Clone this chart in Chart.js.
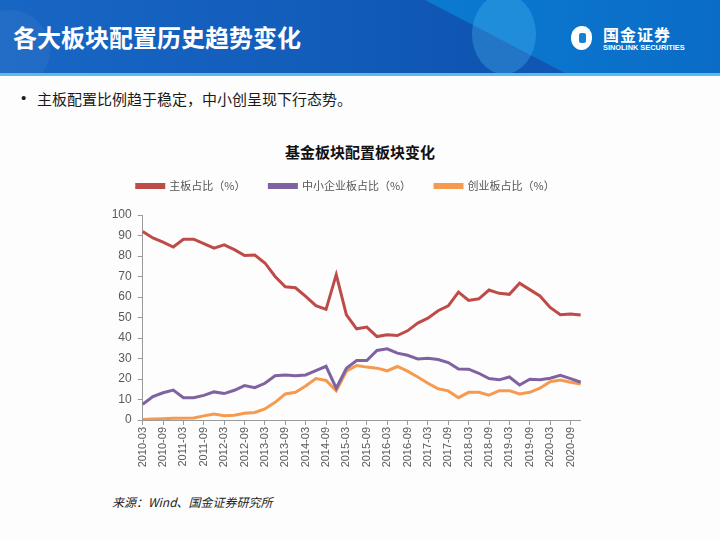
<!DOCTYPE html>
<html><head><meta charset="utf-8">
<script src="https://cdn.jsdelivr.net/npm/chart.js@4"></script>
<style>
html,body{margin:0;padding:0;width:720px;height:540px;overflow:hidden;background:#fdfdfd;font-family:"Noto Sans CJK SC","Noto Sans",sans-serif;}
#hdr{position:absolute;left:0;top:0;width:720px;height:73px;overflow:hidden;
background:linear-gradient(90deg,#1866c4 0%,#135dbb 40%,#0f56b2 65%,#0f5ab6 100%);}
#hdr .lite{position:absolute;left:0;top:0;width:720px;height:73px;
clip-path:polygon(425px 0,720px 0,720px 73px,565px 73px);
background:linear-gradient(90deg,#2a9fe6 0%,#1590dc 30%,#0b7ad0 60%,#0a6cc6 100%);}
#hdr .s2{position:absolute;left:472px;top:-6px;width:64px;height:80px;border-radius:50%;background:rgba(90,200,250,0.28);}
#hdr .s3{position:absolute;left:-30px;top:10px;width:80px;height:80px;border-radius:50%;background:rgba(255,255,255,0.05);}
#line{position:absolute;left:0;top:73px;width:720px;height:3px;background:#58bdec;}
#title{position:absolute;left:13px;top:22px;color:#fff;font-size:24px;font-weight:bold;line-height:30px;}
#logo{position:absolute;left:571px;top:26px;width:21px;height:24px;border-radius:50% 45% 50% 50%;background:#fff;}
#logo:after{content:"";position:absolute;left:8px;top:7px;width:7px;height:10px;border-radius:2px;background:#1482d4;}
#lt1{position:absolute;left:603px;top:24px;color:#fff;font-size:16px;font-weight:bold;letter-spacing:1px;line-height:20px;}
#lt2{position:absolute;left:603px;top:43px;color:#fff;font-size:7.4px;font-weight:bold;font-family:"Liberation Sans",sans-serif;line-height:9px;}
#bullet{position:absolute;left:21px;top:88px;font-size:15px;color:#1a1a1a;}
#bullet b{font-family:"Liberation Sans",sans-serif;font-size:15px;font-weight:normal;position:absolute;left:0;top:1px;}
#bullet span{position:absolute;left:16px;top:0;white-space:nowrap;}
#ctitle{position:absolute;left:0;width:720px;top:141px;text-align:center;font-size:15px;font-weight:bold;color:#111;}
#src{position:absolute;left:112px;top:493px;font-size:12px;font-style:italic;color:#222;}
#wrap{position:absolute;left:80px;top:160px;width:540px;height:330px;}
</style></head>
<body>
<div id="hdr"><div class="s3"></div><div class="lite"></div><div class="s2"></div></div>
<div id="line"></div>
<div id="title">各大板块配置历史趋势变化</div>
<div id="logo"></div>
<div id="lt1">国金证券</div>
<div id="lt2">SINOLINK SECURITIES</div>
<div id="bullet"><b>•</b><span>主板配置比例趋于稳定，中小创呈现下行态势。</span></div>
<div id="ctitle">基金板块配置板块变化</div>
<div id="src">来源：Wind、国金证券研究所</div>
<div id="wrap"><canvas id="c" width="540" height="330"></canvas></div>
<script>
const categories = ["2010-03","2010-06","2010-09","2010-12","2011-03","2011-06","2011-09","2011-12",
"2012-03","2012-06","2012-09","2012-12","2013-03","2013-06","2013-09","2013-12",
"2014-03","2014-06","2014-09","2014-12","2015-03","2015-06","2015-09","2015-12",
"2016-03","2016-06","2016-09","2016-12","2017-03","2017-06","2017-09","2017-12",
"2018-03","2018-06","2018-09","2018-12","2019-03","2019-06","2019-09","2019-12",
"2020-03","2020-06","2020-09","2020-12"];
const mainBoard = [92.0,88.8,86.8,84.4,88.2,88.2,86.0,83.8,85.4,83.1,80.2,80.5,76.6,70.0,65.0,64.5,60.3,55.8,54.0,70.9,
51.3,44.5,45.3,40.7,41.6,41.2,43.5,47.3,49.7,53.3,55.7,62.4,58.3,59.1,63.4,61.8,61.3,66.7,63.6,60.5,54.9,51.3,51.7,51.2];
const smeBoard = [7.7,11.4,13.3,14.6,10.9,10.9,12.0,13.7,12.9,14.5,16.8,15.8,17.9,21.6,22.0,21.6,22.0,24.1,26.2,15.5,
25.2,29.0,29.0,33.9,34.7,32.6,31.6,29.8,30.1,29.5,28.0,24.9,24.8,22.8,20.2,19.6,21.0,17.1,19.9,19.6,20.4,21.8,20.2,18.4];
const gemBoard = [0.3,0.5,0.6,0.8,0.9,1.0,2.0,2.9,2.1,2.3,3.3,3.7,5.4,8.6,12.7,13.5,16.6,20.2,19.3,14.3,
23.8,26.6,25.8,25.3,24.0,26.1,23.8,21.0,17.9,15.2,14.2,10.9,13.5,13.5,12.1,14.3,14.3,12.7,13.5,15.5,18.7,19.5,18.4,17.6];
const seriesNames = ["主板占比（%）","中小企业板占比（%）","创业板占比（%）"];
const yTicks = [0,10,20,30,40,50,60,70,80,90,100];

const mk = (label, data, color) => ({label, data, borderColor:color, backgroundColor:color, borderWidth:3,
  pointRadius:0, tension:0, fill:false});

const legendSpace = {
  id:'legendSpace',
  beforeInit(chart){
    const lg = chart.legend;
    const fit = lg.fit;
    lg.fit = function(){ fit.call(this); this.height += 10; };
    const draw = lg.draw;
    lg.draw = function(){ const ctx = this.ctx; ctx.save(); ctx.translate(4,-3.5); draw.call(this); ctx.restore(); };
  }
};

new Chart(document.getElementById('c'), {
  type:'line',
  data:{labels:categories, datasets:[
    mk(seriesNames[0], mainBoard, '#be4b48'),
    mk(seriesNames[1], smeBoard, '#7f63a1'),
    mk(seriesNames[2], gemBoard, '#f59a4e')
  ]},
  plugins:[legendSpace],
  options:{
    responsive:false, animation:false, devicePixelRatio:1,
    layout:{padding:{left:22.7,right:39.3,top:0,bottom:10}},
    plugins:{
      title:{display:false},
      tooltip:{enabled:false},
      legend:{display:true, position:'top',
        labels:{boxWidth:27, boxHeight:3, padding:24, color:'#555',
          font:{family:'"Noto Sans CJK SC", sans-serif', size:11}}}
    },
    scales:{
      x:{type:'category', offset:false,
        grid:{display:true, drawOnChartArea:false, drawTicks:true, tickLength:5, color:'#9a9a9a'},
        border:{display:true, color:'#9a9a9a', width:1},
        ticks:{autoSkip:false, maxRotation:90, minRotation:90, padding:2, color:'#595959',
          font:{family:'"Liberation Sans", Arial, sans-serif', size:11},
          callback:function(v,i){ return i%2===0 ? categories[i] : null; }},
        afterFit:function(s){ s.height = 60; }
      },
      y:{min:0,max:100,
        afterBuildTicks:function(s){ s.ticks = yTicks.map(v=>({value:v})); },
        grid:{display:true, drawOnChartArea:false, drawTicks:true, tickLength:5, color:'#9a9a9a'},
        border:{display:true, color:'#9a9a9a', width:1},
        ticks:{autoSkip:false, padding:6, color:'#595959', font:{family:'"Liberation Sans", Arial, sans-serif', size:12}},
        afterFit:function(s){ s.width = 40; }
      }
    }
  }
});
</script>
</body></html>
